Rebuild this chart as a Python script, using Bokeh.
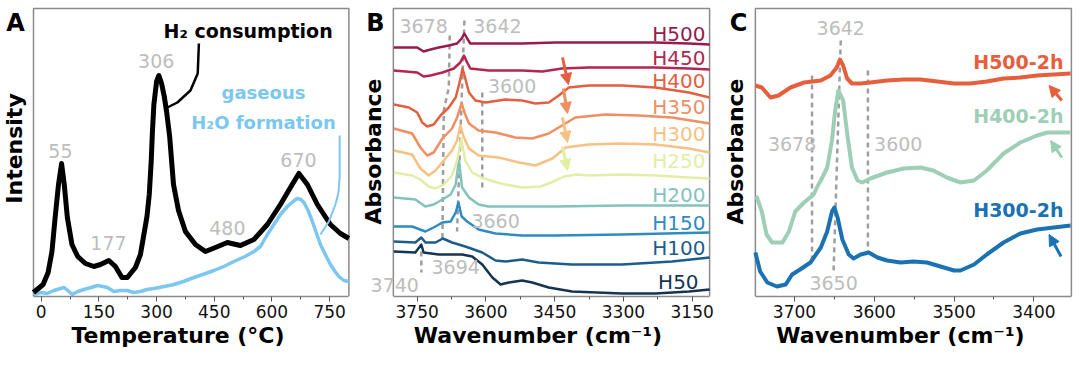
from math import pi
from bokeh.plotting import figure
from bokeh.layouts import row
from bokeh.models import Range1d, FixedTicker, Label, Arrow, NormalHead
from bokeh.embed import file_html
from bokeh.resources import INLINE

FONT = "DejaVu Sans"
GRAY_TXT = "#bdbdbd"
DASH_C = "#9e9e9e"
BOX_C = "#8a8a8a"

# ---------------- Panel A: H2-TPR ----------------
temp_h2 = [-20, 5, 18, 28, 36, 45, 53, 60, 68, 80, 95, 115, 137, 154, 176, 193, 210, 224, 245, 258,
           267, 275, 281, 286, 289, 293, 300, 306, 313, 320, 326, 334, 344, 357, 375, 401, 427, 453,
           484, 518, 553, 588, 622, 648, 670, 692, 718, 752, 778, 800]
int_h2 = [4, 12, 24, 45, 78, 112, 133, 112, 79, 52, 40, 33, 30, 32, 36, 30, 19, 19, 29, 42,
          62, 80, 102, 135, 163, 192, 215, 221, 213, 200, 185, 160, 112, 86, 65, 52, 45, 49,
          54, 51, 57, 72, 92, 109, 123, 112, 92, 72, 63, 58]
temp_h2o = [-20, 0, 15, 33, 50, 60, 72, 81, 95, 111, 130, 146, 160, 172, 189, 205, 224, 240, 258, 275,
            293, 320, 345, 370, 397, 420, 449, 475, 501, 530, 553, 570, 588, 605, 622, 640, 655, 666,
            675, 683, 694, 705, 716, 726, 740, 752, 764, 774, 787, 800]
int_h2o = [2, 4, 3, 6, 8, 9, 5, 2, 5, 7, 9, 11, 10, 9, 5, 6, 6, 4, 5, 7,
           8, 10, 12, 15, 19, 22, 26, 30, 35, 40, 45, 50, 62, 72, 82, 90, 95, 98,
           97, 94, 86, 75, 63, 52, 41, 32, 25, 20, 16, 15]
temp_ticks = [0, 150, 300, 450, 600, 750]
temp_peaks = ["55", "306", "177", "480", "670"]

# ---------------- Panel B: DRIFTS vs reduction temperature ----------------
b_names = ["H500", "H450", "H400", "H350", "H300", "H250", "H200", "H150", "H100", "H50"]
b_colors = ["#961b4e", "#b3264f", "#e2603f", "#ef8f62", "#f7c183", "#e2eea5",
            "#83c3bd", "#2f8bc1", "#1c5d8e", "#163452"]
wn_H500 = [3801, 3776, 3750, 3736, 3721, 3703, 3681, 3663, 3653, 3647, 3641, 3634, 3594, 3521, 3448, 3376, 3303, 3230, 3157, 3112]
ab_H500 = [249, 249, 249, 245, 247, 249, 251, 253, 258, 263, 258, 253, 253, 253, 254, 254, 254, 254, 253, 252]
wn_H450 = [3801, 3750, 3736, 3721, 3695, 3670, 3656, 3648, 3641, 3634, 3594, 3521, 3477, 3434, 3376, 3303, 3230, 3157, 3112]
ab_H450 = [226, 224, 220, 221, 224, 228, 234, 241, 234, 228, 226, 226, 225, 228, 229, 229, 229, 228, 227]
wn_H400 = [3801, 3768, 3750, 3739, 3728, 3714, 3699, 3681, 3666, 3658, 3651, 3645, 3637, 3623, 3601, 3557, 3521, 3492, 3463, 3441, 3419, 3376, 3303, 3230, 3157, 3112]
ab_H400 = [192, 189, 184, 174, 170, 172, 181, 189, 199, 213, 228, 218, 204, 196, 194, 197, 196, 193, 194, 201, 209, 211, 211, 209, 204, 199]
wn_H350 = [3801, 3761, 3743, 3728, 3714, 3695, 3674, 3663, 3653, 3646, 3637, 3616, 3579, 3536, 3499, 3463, 3434, 3405, 3339, 3267, 3194, 3112]
ab_H350 = [168, 163, 149, 141, 144, 158, 168, 179, 193, 183, 173, 166, 164, 159, 158, 163, 171, 179, 182, 181, 179, 173]
wn_H300 = [3801, 3761, 3743, 3725, 3710, 3692, 3674, 3663, 3656, 3648, 3637, 3616, 3572, 3528, 3492, 3455, 3426, 3376, 3303, 3230, 3157, 3112]
ab_H300 = [146, 142, 128, 121, 126, 136, 146, 156, 171, 159, 148, 141, 139, 134, 131, 138, 149, 152, 153, 152, 148, 144]
wn_H250 = [3801, 3761, 3743, 3725, 3710, 3692, 3674, 3663, 3654, 3645, 3630, 3605, 3568, 3521, 3481, 3452, 3430, 3401, 3376, 3303, 3230, 3157, 3112]
ab_H250 = [124, 121, 117, 110, 108, 112, 121, 136, 158, 136, 124, 118, 113, 109, 110, 115, 120, 122, 121, 122, 121, 119, 118]
wn_H200 = [3801, 3754, 3732, 3714, 3695, 3677, 3666, 3659, 3652, 3637, 3616, 3594, 3521, 3448, 3303, 3112]
ab_H200 = [99, 97, 90, 92, 97, 102, 112, 136, 109, 99, 92, 90, 90, 90, 91, 91]
wn_H150 = [3801, 3761, 3732, 3710, 3695, 3677, 3666, 3660, 3653, 3641, 3616, 3579, 3521, 3448, 3303, 3112]
ab_H150 = [70, 70, 65, 70, 74, 75, 84, 94, 80, 75, 67, 63, 61, 61, 62, 64]
wn_H100 = [3801, 3754, 3741, 3732, 3710, 3694, 3674, 3645, 3608, 3579, 3557, 3521, 3485, 3412, 3303, 3194, 3112]
ab_H100 = [55, 54, 59, 54, 54, 58, 54, 50, 44, 36, 35, 37, 34, 32, 32, 35, 39]
wn_H50 = [3801, 3754, 3741, 3736, 3703, 3652, 3630, 3608, 3586, 3568, 3550, 3521, 3499, 3463, 3412, 3303, 3230, 3157, 3112]
ab_H50 = [45, 44, 52, 44, 42, 42, 40, 32, 19, 12, 14, 16, 14, 9, 5, 3, 3, 5, 7]
b_wn = [wn_H500, wn_H450, wn_H400, wn_H350, wn_H300, wn_H250, wn_H200, wn_H150, wn_H100, wn_H50]
b_ab = [ab_H500, ab_H450, ab_H400, ab_H350, ab_H300, ab_H250, ab_H200, ab_H150, ab_H100, ab_H50]
b_ticks = [3750, 3600, 3450, 3300, 3150]

# ---------------- Panel C: 2 h reduction ----------------
c_names = ["H500-2h", "H400-2h", "H300-2h"]
c_colors = ["#e65f3d", "#9ecfb6", "#1b72b3"]
wn_H500_2h = [3749, 3741, 3730, 3720, 3705, 3688, 3667, 3655, 3647, 3643, 3639, 3634, 3628, 3617, 3605, 3584, 3563, 3542, 3521, 3500, 3480, 3459, 3438, 3417, 3396, 3375, 3354]
ab_H500_2h = [211, 209, 199, 201, 209, 214, 216, 221, 229, 237, 231, 218, 213, 213, 214, 216, 217, 217, 215, 213, 213, 215, 218, 219, 221, 222, 223]
wn_H400_2h = [3749, 3747, 3741, 3735, 3728, 3715, 3707, 3699, 3688, 3676, 3670, 3667, 3659, 3653, 3649, 3645, 3639, 3634, 3628, 3621, 3615, 3605, 3584, 3563, 3542, 3526, 3509, 3492, 3475, 3459, 3438, 3417, 3396, 3383, 3354]
ab_H400_2h = [100, 99, 85, 62, 54, 54, 65, 85, 94, 102, 112, 116, 129, 156, 186, 206, 196, 163, 129, 116, 114, 118, 124, 128, 129, 126, 119, 114, 116, 126, 143, 154, 161, 164, 164]
wn_H300_2h = [3749, 3743, 3734, 3722, 3711, 3703, 3693, 3680, 3667, 3659, 3653, 3650, 3646, 3640, 3632, 3626, 3617, 3607, 3596, 3584, 3567, 3551, 3534, 3517, 3500, 3492, 3475, 3459, 3438, 3417, 3396, 3375, 3354]
ab_H300_2h = [44, 25, 14, 10, 12, 22, 27, 34, 49, 65, 85, 89, 79, 57, 42, 38, 42, 44, 39, 36, 34, 35, 34, 30, 26, 26, 32, 42, 54, 63, 67, 69, 71]
c_wn = [wn_H500_2h, wn_H400_2h, wn_H300_2h]
c_ab = [ab_H500_2h, ab_H400_2h, ab_H300_2h]
c_ticks = [3700, 3600, 3500, 3400]

Y_TOP = 288  # top edge of the plot box (arbitrary intensity units)


def make_fig(width, xr, box, ticks, minor, xlabel):
    p = figure(frame_width=width, frame_height=296, x_range=Range1d(*xr), y_range=Range1d(0, 296),
               min_border_left=0, min_border_right=0, min_border_top=0, min_border_bottom=64,
               y_axis_location=None, toolbar_location=None, output_backend="svg")
    p.xgrid.grid_line_color = None
    p.ygrid.grid_line_color = None
    p.outline_line_color = None
    p.background_fill_color = "white"
    p.border_fill_color = "white"
    ax = p.xaxis[0]
    ax.bounds = box
    ax.ticker = FixedTicker(ticks=ticks, minor_ticks=minor)
    ax.axis_line_color = BOX_C
    ax.axis_line_width = 1.5
    ax.major_tick_line_color = "#555555"
    ax.minor_tick_line_color = "#555555"
    ax.major_tick_out = 5
    ax.major_tick_in = 0
    ax.minor_tick_out = 3
    ax.minor_tick_in = 0
    ax.major_label_standoff = 3
    ax.major_label_text_font = FONT
    ax.major_label_text_font_size = "17px"
    ax.major_label_text_color = "#111111"
    ax.axis_label = xlabel
    ax.axis_label_text_font = FONT
    ax.axis_label_text_font_style = "bold"
    ax.axis_label_text_font_size = "22px"
    ax.axis_label_text_color = "#000000"
    ax.axis_label_standoff = 2
    # left, top and right edges of the plot box
    p.line([box[0], box[0], box[1], box[1]], [0, Y_TOP, Y_TOP, 0],
           line_color=BOX_C, line_width=1.5)
    return p


def lab(p, x, y, text, size="19px", color=GRAY_TXT, bold=False, align="center", angle=0):
    p.add_layout(Label(x=x, y=y, text=text, text_font=FONT, text_font_size=size,
                       text_color=color, text_font_style="bold" if bold else "normal",
                       text_align=align, text_baseline="middle", angle=angle))


def dashed(p, xs, ys):
    p.line(xs, ys, line_color=DASH_C, line_width=2.5, line_dash="5 4")


def arrow(p, x0, y0, x1, y1, color):
    p.add_layout(Arrow(end=NormalHead(size=11, fill_color=color, line_color=color),
                       x_start=x0, y_start=y0, x_end=x1, y_end=y1,
                       line_color=color, line_width=3))


# ---- Panel A ----
pA = make_fig(355, (-105.8, 817.2), (-20, 800), temp_ticks, [75, 225, 375, 525, 675],
              "Temperature (°C)")
pA.line(temp_h2o, int_h2o, line_color="#7cc7ef", line_width=3.5, line_join="round")
pA.line(temp_h2, int_h2, line_color="#000000", line_width=5, line_join="round")
pA.line([410, 407, 388, 354, 328], [253, 223, 206, 194, 189], line_color="#000000", line_width=2.5)
pA.line([776, 776, 773, 765, 748, 726], [161, 120, 104, 92, 75, 62], line_color="#7cc7ef", line_width=2)
for t, (x, y) in zip(temp_peaks, [(50, 146), (299, 236), (175, 54), (484, 69), (669, 137)]):
    lab(pA, x, y, t)
lab(pA, 538, 266, "H₂ consumption", size="19px", color="#000000", bold=True)
lab(pA, 578, 204, "gaseous", size="18px", color="#7cc7ef", bold=True)
lab(pA, 578, 174, "H₂O formation", size="18px", color="#7cc7ef", bold=True)
lab(pA, -67, 274, "A", size="24px", color="#000000", bold=True)
lab(pA, -69, 148, "Intensity", size="22px", color="#000000", bold=True, angle=pi / 2)

# ---- Panel B ----
pB = make_fig(365, (3884.6, 3088.2), (3802, 3112), b_ticks, [3675, 3525, 3375, 3225],
              "Wavenumber (cm⁻¹)")
dashed(pB, [3679, 3681, 3692, 3695], [261, 209, 186, 57])
dashed(pB, [3647, 3663], [276, 65])
dashed(pB, [3608, 3608], [204, 105])
dashed(pB, [3741, 3741], [45, 24])
for xs, ys, c in zip(b_wn[::-1], b_ab[::-1], b_colors[::-1]):
    pB.line(xs, ys, line_color=c, line_width=2.5, line_join="round")
b_label_y = [263, 239, 216, 190, 163, 136, 102, 74, 49, 15]
for n, c, y in zip(b_names, b_colors, b_label_y):
    lab(pB, 3121 if n != "H50" else 3136, y, n, size="20px", color=c, align="right")
for t, (x, y) in zip(["3678", "3642", "3600", "3660", "3694", "3740"],
                     [(3736, 271), (3575, 271), (3543, 211), (3579, 76), (3666, 30), (3799, 12)]):
    lab(pB, x, y, t)
arrow(pB, 3433, 239, 3420, 212, b_colors[2])
arrow(pB, 3431, 208, 3422, 183, b_colors[3])
arrow(pB, 3433, 179, 3422, 154, b_colors[4])
arrow(pB, 3433, 150, 3422, 126, b_colors[5])
lab(pB, 3841, 274, "B", size="24px", color="#000000", bold=True)
lab(pB, 3845, 145, "Absorbance", size="22px", color="#000000", bold=True, angle=pi / 2)

# ---- Panel C ----
pC = make_fig(360, (3792.7, 3341.6), (3749, 3353), c_ticks, [3650, 3550, 3450],
              "Wavenumber (cm⁻¹)")
dashed(pC, [3642, 3651], [256, 25])
dashed(pC, [3678, 3678], [221, 32])
dashed(pC, [3608, 3608], [226, 45])
for xs, ys, c in zip(c_wn, c_ab, c_colors):
    pC.line(xs, ys, line_color=c, line_width=4, line_join="round")
for n, c, y in zip(c_names, c_colors, [235, 181, 87]):
    lab(pC, 3363, y, n, size="19px", color=c, bold=True, align="right")
for t, (x, y) in zip(["3642", "3678", "3600", "3650"],
                     [(3642, 269), (3703, 153), (3570, 153), (3651, 14)]):
    lab(pC, x, y, t)
arrow(pC, 3365, 196, 3381, 211, c_colors[0])
arrow(pC, 3365, 139, 3379, 156, c_colors[1])
arrow(pC, 3366, 40, 3381, 62, c_colors[2])
lab(pC, 3770, 274, "C", size="24px", color="#000000", bold=True)
lab(pC, 3774, 145, "Absorbance", size="22px", color="#000000", bold=True, angle=pi / 2)

layout = row(pA, pB, pC)
open("out.html", "w").write(file_html(layout, INLINE))
